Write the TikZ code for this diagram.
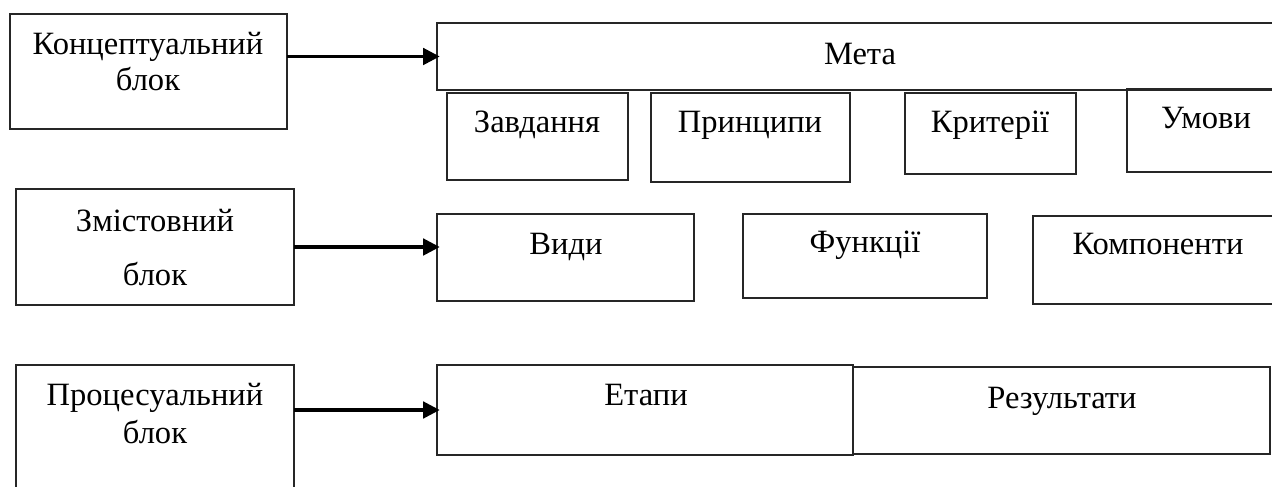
\documentclass[tikz,border=0pt]{standalone}
\usepackage{fontspec}
\setmainfont{Liberation Serif}
\usetikzlibrary{fit,arrows.meta}
\begin{document}
\begin{tikzpicture}[x=0.375pt,y=-0.375pt,
  box/.style={draw=black!85,line width=0.55pt,inner sep=0pt,outer sep=0pt},
  lbl/.style={anchor=base,inner sep=0pt,font=\fontsize{12.2}{14}\selectfont},
  conn/.style={line width=1.2pt,-{Triangle[length=6.2pt,width=6.2pt]},shorten >=-1pt}]
\useasboundingbox (0,0) rectangle (1272,487);
\clip (0,0) rectangle (1272,487);
% boxes
\node[box,fit={(10,14)(287,129)}] (k1) {};
\node[box,fit={(437,23)(1285,90)}] (meta) {};
\node[box,fit={(447,93)(628,180)}] (zav) {};
\node[box,fit={(651,93)(850,182)}] (pryn) {};
\node[box,fit={(905,93)(1076,174)}] (kryt) {};
\node[box,fit={(1127,89)(1285,172)}] (umovy) {};
\node[box,fit={(16,189)(294,305)}] (z) {};
\node[box,fit={(437,214)(694,301)}] (vydy) {};
\node[box,fit={(743,214)(987,298)}] (funk) {};
\node[box,fit={(1033,216)(1285,304)}] (komp) {};
\node[box,fit={(16,365)(294,505)}] (p) {};
\node[box,fit={(437,365)(853,455)}] (etapy) {};
\node[box,fit={(853,367)(1270,454)}] (rez) {};
% texts
\node[lbl] (tk1a) at (148,55) {Концептуальний};
\node[lbl] (tk1b) at (148,91) {блок};
\node[lbl] (tmeta) at (860,65) {Мета};
\node[lbl] (tzav) at (537,133) {Завдання};
\node[lbl] (tpryn) at (750,133) {Принципи};
\node[lbl] (tkryt) at (990,133) {Критерії};
\node[lbl] (tumovy) at (1206,129) {Умови};
\node[lbl] (tza) at (155,232) {Змістовний};
\node[lbl] (tzb) at (155,286) {блок};
\node[lbl] (tvydy) at (566,255) {Види};
\node[lbl] (tfunk) at (865,253) {Функції};
\node[lbl] (tkomp) at (1158,255) {Компоненти};
\node[lbl] (tpa) at (155,406) {Процесуальний};
\node[lbl] (tpb) at (155,444) {блок};
\node[lbl] (tetapy) at (646,406) {Етапи};
\node[lbl] (trez) at (1062,409) {Результати};
% connectors
\draw[conn] (k1.east |- meta.west) -- (meta.west);
\draw[conn] (z.east) -- (z.east -| vydy.west);
\draw[conn] (p.east |- etapy.west) -- (etapy.west);
\end{tikzpicture}
\end{document}
